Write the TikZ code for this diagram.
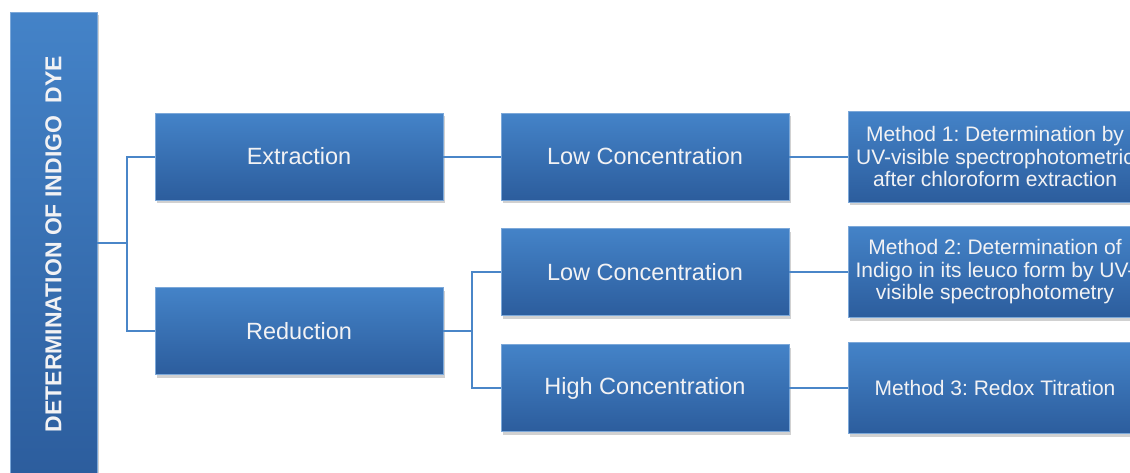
\documentclass[tikz,border=0pt]{standalone}
\usepackage{fontspec}
\setmainfont{Liberation Sans}
\usepackage{tikz}
\usetikzlibrary{shadows}

\definecolor{boxtop}{HTML}{4483C8}
\definecolor{boxbot}{HTML}{2C5D9D}
\definecolor{linkblue}{HTML}{4A86C8}
\definecolor{boxtext}{HTML}{F2F2F4}

\begin{document}
\frenchspacing
\begin{tikzpicture}
    [
    x=1pt,y=-1pt,
    box/.style={rectangle,inner sep=0pt,top color=boxtop,bottom color=boxbot,
      draw=boxtop!70!white,line width=0.4pt,text=boxtext,align=center,
      drop shadow={shadow xshift=2pt,shadow yshift=-3pt,opacity=0.3,fill=black!60},
      font=\fontsize{23.5}{26}\selectfont},
    stage/.style={box,minimum width=288pt,minimum height=87pt},
    method/.style={box,minimum width=294pt,minimum height=91pt,
      font=\fontsize{21}{22.5}\selectfont},
    link/.style={draw=linkblue,line width=2pt},
    ]
    \useasboundingbox (0,0) rectangle (1130,472);
    \clip (0,0) rectangle (1130,472);

    \node (root) at (53.5,245) [box,minimum width=87pt,minimum height=466pt] {};
    \node (roottext) at (53.5,244) [rotate=90,text=boxtext,
      font=\bfseries\fontsize{23}{25}\selectfont] {DETERMINATION OF INDIGO\ \ DYE};

    \node (extr) at (299,156.5) [stage] {Extraction};
    \node (red) at (299,331) [stage] {Reduction};

    \node (low1) at (645,156.5) [stage] {Low Concentration};
    \node (low2) at (645,272) [stage] {Low Concentration};
    \node (high) at (645,388) [stage] {High Concentration};

    \node (m1) at (995,156.5) [method] {Method 1: Determination by\\UV-visible spectrophotometric\\after chloroform extraction};
    \node (m2) at (995,272) [method] {Method 2: Determination of\\Indigo in its leuco form by UV-\\visible spectrophotometry};
    \node (m3) at (995,388) [method] {Method 3: Redox Titration};

    \coordinate (j1) at (127,243);
    \coordinate (j2) at (472,331);
    \draw [link] (root.east |- j1) -- (j1);
    \draw [link] (j1) |- (extr.west);
    \draw [link] (j1) |- (red.west);
    \draw [link] (red.east) -- (j2);
    \draw [link] (j2) |- (low2.west);
    \draw [link] (j2) |- (high.west);
    \draw [link] (extr.east) -- (low1.west);
    \draw [link] (low1.east) -- (m1.west);
    \draw [link] (low2.east) -- (m2.west);
    \draw [link] (high.east) -- (m3.west);
  \end{tikzpicture}
\end{document}
